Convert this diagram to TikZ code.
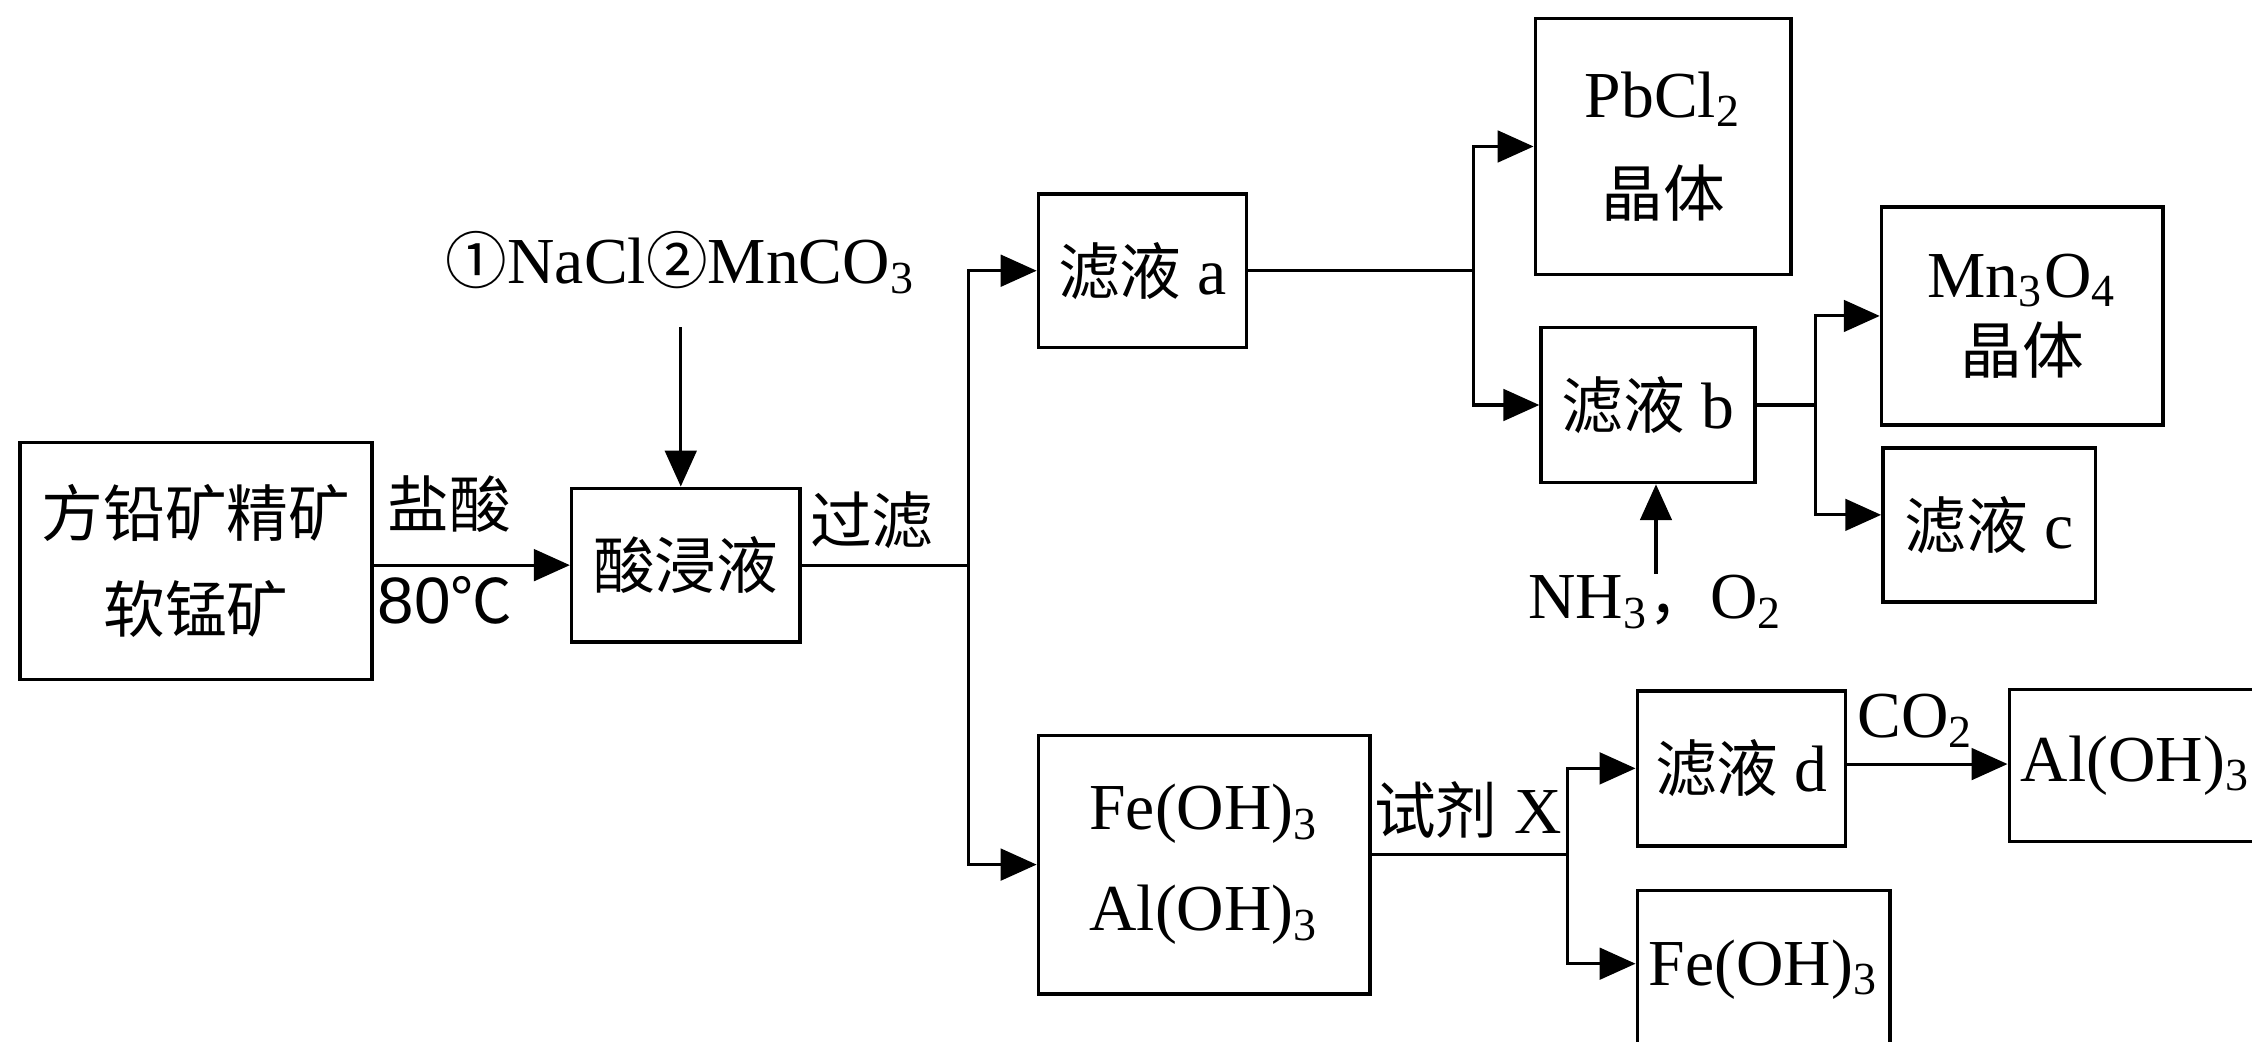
\documentclass[tikz,border=0pt]{standalone}
\usepackage{fontspec}
\setmainfont{Liberation Serif}
\newfontfamily\cjk[Scale=0.94]{Noto Sans CJK SC}
\newfontfamily\arial{Liberation Sans}
\usetikzlibrary{arrows.meta}

\begin{document}
\begin{tikzpicture}[>={Triangle[length=0.25cm,width=0.22cm]},line width=0.6pt,
    box/.style={draw,line width=0.7pt,inner sep=0pt,align=center,font=\fontsize{13}{19}\selectfont},
    lbl/.style={inner sep=0pt,font=\fontsize{13}{15}\selectfont}]

  \useasboundingbox (0,0) rectangle (15.68,7.25);
  \clip (0,0) rectangle (15.68,7.25);

  \node[box,minimum width=2.45cm,minimum height=1.65cm] (ore) at (1.365,3.345) {{\cjk 方铅矿精矿}\\{\cjk 软锰矿}};
  \node[box,minimum width=1.59cm,minimum height=1.07cm] (leach) at (4.775,3.315) {\cjk 酸浸液};
  \node[box,minimum width=1.45cm,minimum height=1.07cm] (fa) at (7.955,5.365) {{\cjk 滤液}\ a};
  \node[box,minimum width=1.78cm,minimum height=1.78cm,font=\fontsize{13}{19.6}\selectfont] (pbcl) at (11.58,6.23) {PbCl\textsubscript{2}\\{\cjk 晶体}};
  \node[box,minimum width=1.49cm,minimum height=1.08cm] (fb) at (11.475,4.43) {{\cjk 滤液}\ b};
  \node[box,minimum width=1.96cm,minimum height=1.52cm,font=\fontsize{13}{15}\selectfont] (mno) at (14.08,5.05) {Mn\textsubscript{3}O\textsubscript{4}\\{\cjk 晶体}};
  \node[box,minimum width=1.48cm,minimum height=1.07cm] (fc) at (13.85,3.595) {{\cjk 滤液}\ c};

  \node[box,minimum width=2.31cm,minimum height=1.80cm,font=\fontsize{13}{20}\selectfont] (hyd) at (8.385,1.23) {Fe(OH)\textsubscript{3}\\Al(OH)\textsubscript{3}};
  \node[box,minimum width=1.45cm,minimum height=1.08cm] (fd) at (12.125,1.90) {{\cjk 滤液}\ d};
  \node[box,minimum width=1.76cm,minimum height=1.10cm] (feoh) at (12.28,0.50) {Fe(OH)\textsubscript{3}};
  \node[box,minimum width=1.76cm,minimum height=1.06cm] (aloh) at (14.87,1.92) {Al(OH)\textsubscript{3}};

  % labels on the lines
  \node[lbl] (hcl) at (3.13,3.74) {\cjk 盐酸};
  \node[lbl] (temp) at (3.10,3.07) {{\arial 80}{\cjk ℃}};
  \node[lbl] (reag) at (4.74,5.42) {{\cjk ①}NaCl{\cjk ②}MnCO\textsubscript{3}};
  \node[lbl] (filt) at (6.07,3.63) {\cjk 过滤};
  \node[lbl] (nh) at (11.53,3.06) {NH\textsubscript{3}{\cjk ，}O\textsubscript{2}};
  \node[lbl] (rx) at (10.22,1.61) {{\cjk 试剂} X};
  \node[lbl] (co) at (13.34,2.23) {CO\textsubscript{2}};

  \draw[->] (ore.east |- leach.west) -- (leach.west);
  \draw[->] ([yshift=-0.22cm]reag.south) -- (reag.south |- leach.north);

  \draw (leach.east) -- ++(1.16,0) coordinate (s1);
  \draw[->] (s1) |- (fa.west);
  \draw[->] (s1) |- (hyd.west);

  \draw (fa.east) -- ++(1.57,0) coordinate (s2);
  \draw[->] (s2) |- (pbcl.west);
  \draw[->] (s2) |- (fb.west);
  \draw[->] (nh.north) -- (nh.north |- fb.south);

  \draw (fb.east) -- ++(0.41,0) coordinate (s3);
  \draw[->] (s3) |- (mno.west);
  \draw[->] (s3) |- ([yshift=0.07cm]fc.west);

  \draw ([yshift=0.07cm]hyd.east) -- ++(1.36,0) coordinate (s4);
  \draw[->] (s4) |- (fd.west);
  \draw[->] (s4) |- ([yshift=0.04cm]feoh.west);
  \draw[->] ([yshift=0.03cm]fd.east) -- ([yshift=0.03cm]fd.east -| aloh.west);
\end{tikzpicture}
\end{document}
